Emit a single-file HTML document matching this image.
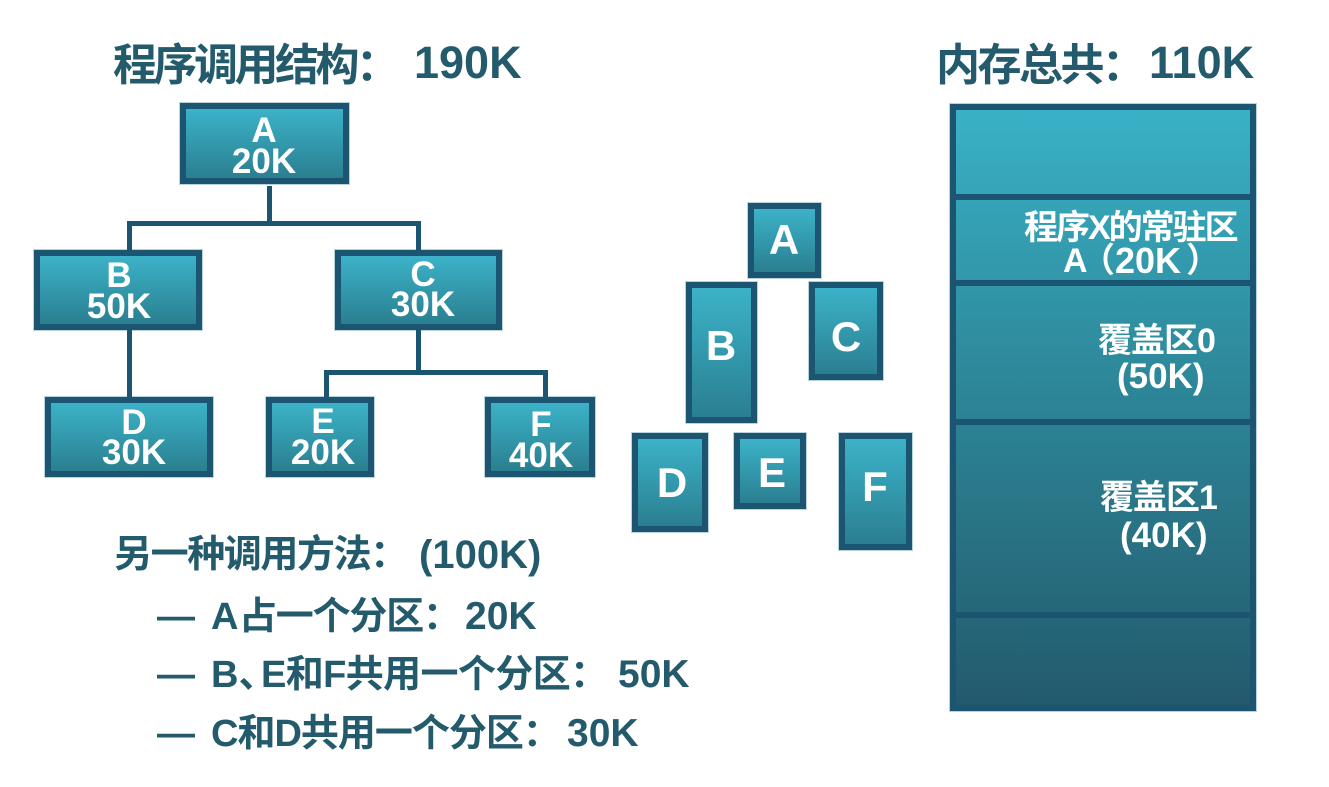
<!DOCTYPE html>
<html>
<head>
<meta charset="utf-8">
<style>
html,body{margin:0;padding:0;background:#fff;}
body{width:1329px;height:787px;position:relative;overflow:hidden;font-family:"Liberation Sans","Noto Sans CJK SC",sans-serif;font-weight:bold;}
.box{position:absolute;box-sizing:border-box;border:6px solid #1c5571;background:linear-gradient(#3cb2c8,#2a7f90);box-shadow:0 0 0 1px #b9d3dc;}
.ln{position:absolute;background:#1c5571;}
.t{position:absolute;width:200px;text-align:center;color:#fff;font-size:35px;line-height:35px;white-space:nowrap;}
.m{position:absolute;width:100px;text-align:center;color:#fff;font-size:42px;line-height:42px;}
.d{position:absolute;color:#245b6c;white-space:nowrap;}
.d span{position:absolute;top:0;white-space:nowrap;}
.w{position:absolute;color:#fff;white-space:nowrap;}
.w span{position:absolute;top:0;white-space:nowrap;}
</style>
</head>
<body>

<!-- Titles -->
<div class="d" style="left:0;top:44px;font-size:44px;line-height:44px;">
  <span style="left:113px;letter-spacing:-3.5px;">程序调用结构：</span>
  <span style="left:414px;top:-3px;font-size:45px;">190K</span>
</div>
<div class="d" style="left:0;top:44px;font-size:44px;line-height:44px;">
  <span style="left:936px;letter-spacing:-2.5px;">内存总共：</span>
  <span style="left:1149px;top:-3px;font-size:45px;">110K</span>
</div>

<!-- Tree boxes -->
<div class="box" style="left:180px;top:103px;width:169px;height:81px;"></div>
<div class="box" style="left:34px;top:250px;width:168px;height:80px;"></div>
<div class="box" style="left:335px;top:250px;width:167px;height:80px;"></div>
<div class="box" style="left:45px;top:397px;width:168px;height:80px;"></div>
<div class="box" style="left:266px;top:397px;width:108px;height:80px;"></div>
<div class="box" style="left:485px;top:397px;width:110px;height:80px;"></div>

<!-- Tree connectors -->
<div class="ln" style="left:267px;top:186px;width:5px;height:40px;"></div>
<div class="ln" style="left:127px;top:221px;width:294px;height:5px;"></div>
<div class="ln" style="left:127px;top:221px;width:5px;height:29px;"></div>
<div class="ln" style="left:416px;top:221px;width:5px;height:29px;"></div>
<div class="ln" style="left:127px;top:330px;width:5px;height:67px;"></div>
<div class="ln" style="left:416px;top:330px;width:5px;height:45px;"></div>
<div class="ln" style="left:324px;top:370px;width:224px;height:5px;"></div>
<div class="ln" style="left:324px;top:370px;width:5px;height:27px;"></div>
<div class="ln" style="left:543px;top:370px;width:5px;height:27px;"></div>

<!-- Tree texts -->
<div class="t" style="left:164px;top:113px;">A</div>
<div class="t" style="left:164px;top:144px;">20K</div>
<div class="t" style="left:19px;top:258px;">B</div>
<div class="t" style="left:19px;top:289px;">50K</div>
<div class="t" style="left:323px;top:257px;">C</div>
<div class="t" style="left:323px;top:287px;">30K</div>
<div class="t" style="left:34px;top:405px;">D</div>
<div class="t" style="left:34px;top:435px;">30K</div>
<div class="t" style="left:223px;top:404px;">E</div>
<div class="t" style="left:223px;top:435px;">20K</div>
<div class="t" style="left:441px;top:407px;">F</div>
<div class="t" style="left:441px;top:438px;">40K</div>

<!-- Middle boxes -->
<div class="box" style="left:748px;top:203px;width:73px;height:75px;"></div>
<div class="box" style="left:686px;top:282px;width:71px;height:141px;"></div>
<div class="box" style="left:809px;top:282px;width:74px;height:98px;"></div>
<div class="box" style="left:632px;top:433px;width:76px;height:99px;"></div>
<div class="box" style="left:734px;top:433px;width:72px;height:76px;"></div>
<div class="box" style="left:839px;top:433px;width:73px;height:117px;"></div>

<div class="m" style="left:734px;top:219px;">A</div>
<div class="m" style="left:671px;top:325px;">B</div>
<div class="m" style="left:796px;top:316px;">C</div>
<div class="m" style="left:622px;top:462px;">D</div>
<div class="m" style="left:722px;top:452px;">E</div>
<div class="m" style="left:825px;top:466px;">F</div>

<!-- Memory column -->
<div style="position:absolute;left:950px;top:104px;width:306px;height:607px;box-sizing:border-box;border:6px solid #1c5571;background:linear-gradient(#3ab1c7,#2d8899 45%,#235a6d);box-shadow:0 0 0 1px #b9d3dc;"></div>
<div class="ln" style="left:950px;top:194px;width:306px;height:6px;"></div>
<div class="ln" style="left:950px;top:280px;width:306px;height:6px;"></div>
<div class="ln" style="left:950px;top:419px;width:306px;height:6px;"></div>
<div class="ln" style="left:950px;top:612px;width:306px;height:6px;"></div>

<div class="w" style="left:1024px;top:211px;font-size:34px;line-height:34px;letter-spacing:-2px;">程序X的常驻区</div>
<div class="w" style="left:0;top:244px;font-size:34px;line-height:34px;">
  <span style="left:1063px;">A</span>
  <span style="left:1081px;">（</span>
  <span style="left:1115px;font-size:36px;">20K</span>
  <span style="left:1186px;">）</span>
</div>
<div class="w" style="left:1098px;top:324px;font-size:34px;line-height:34px;letter-spacing:-1px;">覆盖区0</div>
<div class="w" style="left:1117px;top:359px;font-size:35px;line-height:35px;">(50K)</div>
<div class="w" style="left:1100px;top:481px;font-size:34px;line-height:34px;letter-spacing:-1px;">覆盖区1</div>
<div class="w" style="left:1120px;top:518px;font-size:35px;line-height:35px;">(40K)</div>

<!-- Bottom list -->
<div class="d" style="left:0;top:536px;font-size:38px;line-height:38px;">
  <span style="left:114px;letter-spacing:-1.4px;">另一种调用方法：</span>
  <span style="left:419px;font-size:40px;">(100K)</span>
</div>
<div class="d" style="left:0;top:598px;font-size:38px;line-height:38px;">
  <span style="left:157px;">—</span>
  <span style="left:211px;">A</span>
  <span style="left:239px;letter-spacing:-1.2px;">占一个分区：</span>
  <span style="left:465px;font-size:39px;">20K</span>
</div>
<div class="d" style="left:0;top:656px;font-size:38px;line-height:38px;">
  <span style="left:157px;">—</span>
  <span style="left:211px;">B、</span>
  <span style="left:261px;letter-spacing:-0.6px;">E和F共用一个分区：</span>
  <span style="left:618px;font-size:39px;">50K</span>
</div>
<div class="d" style="left:0;top:715px;font-size:38px;line-height:38px;">
  <span style="left:157px;">—</span>
  <span style="left:211px;letter-spacing:-1px;">C和D共用一个分区：</span>
  <span style="left:567px;font-size:39px;">30K</span>
</div>

</body>
</html>
